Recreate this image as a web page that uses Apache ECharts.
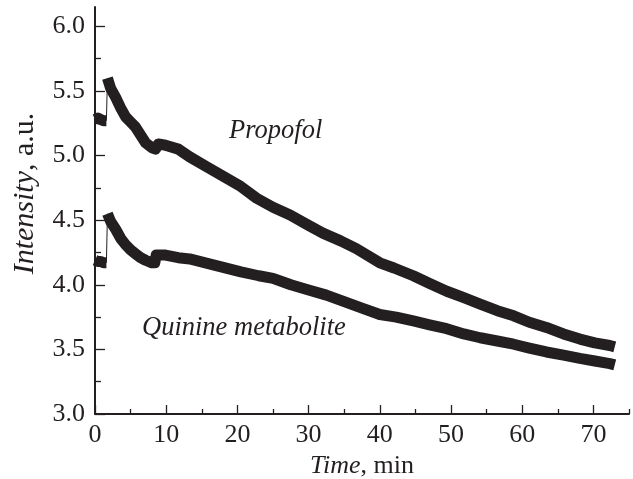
<!DOCTYPE html>
<html>
<head>
<meta charset="utf-8">
<script src="https://cdn.jsdelivr.net/npm/echarts@6/dist/echarts.min.js"></script>
<style>html,body{margin:0;padding:0;background:#fff}#c{width:633px;height:479px}</style>
</head>
<body>
<div id="c"></div>
<script>
// ---- data ----
var propofolPreT = [0, 0.4, 0.8, 1.2, 1.6];
var propofolPreV = [5.28, 5.29, 5.28, 5.27, 5.27];
var propofolT = [1.75, 2.2, 2.9, 3.6, 4.3, 5.0, 5.7, 6.4, 7.1, 8.0, 8.5, 8.9, 9.9, 11.7, 13.3, 15.5, 18, 20.5, 22.7, 25, 27.4, 30, 32, 34.5, 36.7, 40, 42, 44.7, 47, 49.4, 51.8, 54.1, 56.5, 58.8, 61, 63.4, 65.8, 68.1, 70.2, 72.3, 73];
var propofolV = [5.60, 5.52, 5.45, 5.37, 5.30, 5.26, 5.22, 5.16, 5.10, 5.06, 5.05, 5.09, 5.08, 5.05, 4.99, 4.92, 4.84, 4.76, 4.67, 4.60, 4.54, 4.46, 4.40, 4.34, 4.28, 4.17, 4.13, 4.07, 4.01, 3.95, 3.90, 3.85, 3.80, 3.76, 3.71, 3.67, 3.62, 3.58, 3.55, 3.53, 3.52];
var quininePreT = [0, 0.4, 0.8, 1.2, 1.6];
var quininePreV = [4.19, 4.18, 4.18, 4.17, 4.17];
var quinineT = [1.75, 2.2, 2.9, 3.6, 4.3, 5.0, 5.7, 6.4, 7.1, 8.0, 8.4, 8.6, 9.9, 11.7, 13.3, 15.5, 18, 20.5, 23, 25, 27.5, 30, 32.5, 35, 37.5, 40, 42.3, 44.7, 47, 49.4, 51.8, 54.1, 56.5, 58.8, 61, 63.4, 65.8, 68.1, 70.2, 72.3, 73];
var quinineV = [4.55, 4.49, 4.43, 4.36, 4.31, 4.27, 4.24, 4.21, 4.19, 4.17, 4.17, 4.23, 4.23, 4.21, 4.20, 4.17, 4.135, 4.10, 4.07, 4.05, 4.00, 3.96, 3.92, 3.87, 3.82, 3.77, 3.75, 3.72, 3.69, 3.66, 3.62, 3.59, 3.565, 3.54, 3.51, 3.48, 3.455, 3.43, 3.41, 3.39, 3.38];
var xMajorTicks = [0, 10, 20, 30, 40, 50, 60, 70];
var xMinorTicks = [5, 15, 25, 35, 45, 55, 65, 75];
var yMajorTicks = [3.0, 3.5, 4.0, 4.5, 5.0, 5.5, 6.0];
var yMinorTicks = [3.25, 3.75, 4.25, 4.75, 5.25, 5.75];
var seriesNames = ['Propofol', 'Quinine metabolite'];

function pairs(t, v) { return t.map(function (x, i) { return [x, v[i]]; }); }

var ink = '#231f20';
var font = 'Liberation Serif';
var fs = 26;
var yfs = 30;
var chart = echarts.init(document.getElementById('c'));

function xAx(major) {
  return {
    type: 'value', min: 0, max: 75, position: 'bottom',
    axisLine: { show: major, lineStyle: { color: ink, width: 2 } },
    axisTick: { show: true, inside: true, length: major ? 9 : 5, lineStyle: { color: ink, width: 1.3 },
      customValues: major ? xMajorTicks : xMinorTicks },
    axisLabel: { show: major, customValues: xMajorTicks, color: ink, fontFamily: font, fontSize: fs, margin: 8 },
    splitLine: { show: false },
    name: major ? '{i|Time}, min' : '', nameLocation: 'middle', nameGap: 37,
    nameTextStyle: { color: ink, fontFamily: font, fontSize: fs, rich: { i: { fontStyle: 'italic', fontFamily: font, fontSize: fs, color: ink } } }
  };
}
function yAx(major) {
  return {
    type: 'value', min: 3, max: 6.15, position: 'left',
    axisLine: { show: major, lineStyle: { color: ink, width: 2 } },
    axisTick: { show: true, inside: true, length: major ? 10 : 6, lineStyle: { color: ink, width: 1.3 },
      customValues: major ? yMajorTicks : yMinorTicks },
    axisLabel: { show: major, customValues: yMajorTicks, color: ink, fontFamily: font, fontSize: fs, margin: 10,
      formatter: function (v) { return v.toFixed(1); } },
    splitLine: { show: false },
    name: major ? '{i|Intensity}, a.u.' : '', nameLocation: 'middle', nameGap: 55, nameRotate: 90,
    nameTextStyle: { color: ink, fontFamily: font, fontSize: yfs, padding: [0, 0, 0, 34],
      rich: { i: { fontStyle: 'italic', fontFamily: font, fontSize: yfs, color: ink } } }
  };
}

function thick(data) {
  return { type: 'line', data: data, showSymbol: false, symbol: 'none', xAxisIndex: 0, yAxisIndex: 0,
    lineStyle: { color: ink, width: 11, cap: 'butt', join: 'round' }, silent: true };
}
function thin(data) {
  return { type: 'line', data: data, showSymbol: false, symbol: 'none', xAxisIndex: 0, yAxisIndex: 0,
    lineStyle: { color: ink, width: 1 }, silent: true };
}

var pre1 = pairs(propofolPreT, propofolPreV), main1 = pairs(propofolT, propofolV);
var pre2 = pairs(quininePreT, quininePreV), main2 = pairs(quinineT, quinineV);

chart.setOption({
  animation: false,
  backgroundColor: '#fff',
  grid: { left: 95, right: 4, top: 7, bottom: 65, containLabel: false, outerBoundsMode: 'none' },
  xAxis: [xAx(true), xAx(false)],
  yAxis: [yAx(true), yAx(false)],
  series: [
    thick(pre1), thin([pre1[pre1.length - 1], main1[0]]), Object.assign(thick(main1), { name: seriesNames[0] }),
    thick(pre2), thin([pre2[pre2.length - 1], main2[0]]), Object.assign(thick(main2), { name: seriesNames[1] })
  ],
  graphic: [
    { type: 'text', left: 229, top: 118, style: { text: seriesNames[0], font: 'italic 26.5px "Liberation Serif"', fill: ink } },
    { type: 'text', left: 142, top: 315, style: { text: seriesNames[1], font: 'italic 26.5px "Liberation Serif"', fill: ink } }
  ]
});
</script>
</body>
</html>
